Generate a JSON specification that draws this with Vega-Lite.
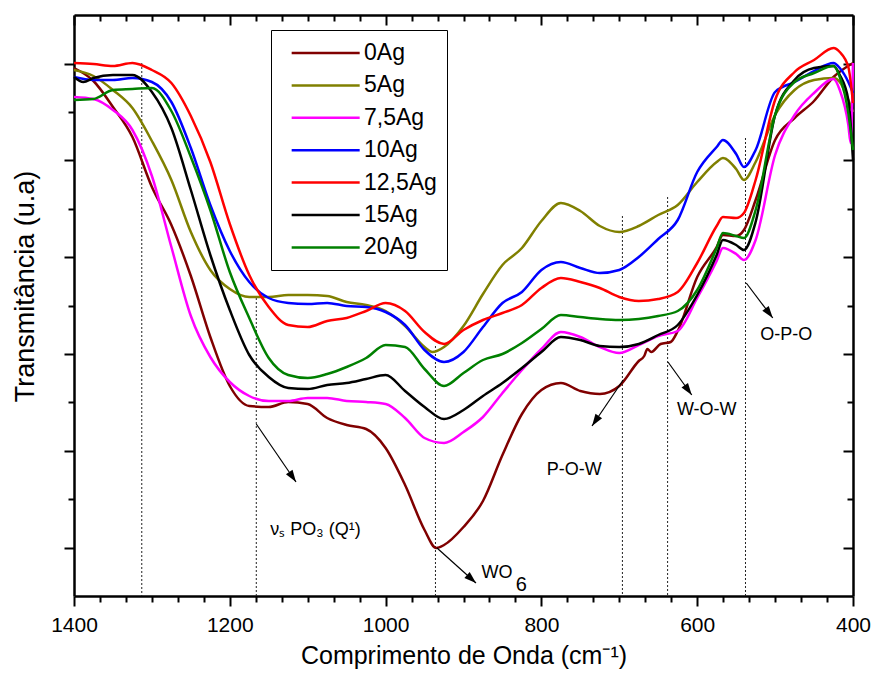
{
  "$schema": "https://vega.github.io/schema/vega-lite/v6.json",
  "width": 779,
  "height": 581,
  "autosize": "none",
  "padding": {"left": 74, "top": 15, "right": 22, "bottom": 81},
  "background": "white",
  "config": {"view": {"stroke": null}, "font": "Liberation Sans"},
  "datasets": {
    "vlines": [
      {"x": 1313, "y1": 533, "y2": 0},
      {"x": 1166, "y1": 298, "y2": 0},
      {"x": 936, "y1": 250, "y2": 0},
      {"x": 696, "y1": 380, "y2": 0},
      {"x": 638, "y1": 399, "y2": 0},
      {"x": 538, "y1": 458, "y2": 0}
    ],
    "arrows": [
      {"x1": 1166, "y1": 172, "x2": 1115, "y2": 114},
      {"x1": 934, "y1": 48, "x2": 884, "y2": 13},
      {"x1": 695, "y1": 216, "x2": 735, "y2": 170},
      {"x1": 637.5, "y1": 234, "x2": 607, "y2": 201},
      {"x1": 537, "y1": 313, "x2": 503, "y2": 278}
    ],
    "labels": [
      {"t": "νₛ PO₃ (Q¹)", "x": 1148, "y": 66},
      {"t": "P-O-W", "x": 793, "y": 126},
      {"t": "W-O-W", "x": 626, "y": 186},
      {"t": "O-P-O", "x": 519, "y": 261},
      {"t": "WO", "x": 877, "y": 23}
    ],
    "labels2": [
      {"t": "6", "x": 833, "y": 11}
    ],
    "spectra": [
      {"s":"0Ag","x":1400,"y":528},{"s":"0Ag","x":1375,"y":515},{"s":"0Ag","x":1350,"y":489},{"s":"0Ag","x":1325,"y":459},{"s":"0Ag","x":1300,"y":409},{"s":"0Ag","x":1275,"y":371},{"s":"0Ag","x":1250,"y":320},{"s":"0Ag","x":1225,"y":259},{"s":"0Ag","x":1200,"y":210},{"s":"0Ag","x":1175,"y":190},{"s":"0Ag","x":1150,"y":189},{"s":"0Ag","x":1125,"y":194},{"s":"0Ag","x":1100,"y":192},{"s":"0Ag","x":1075,"y":178},{"s":"0Ag","x":1050,"y":171},{"s":"0Ag","x":1025,"y":167},{"s":"0Ag","x":1000,"y":148},{"s":"0Ag","x":975,"y":111},{"s":"0Ag","x":950,"y":66},{"s":"0Ag","x":935,"y":48},{"s":"0Ag","x":925,"y":51},{"s":"0Ag","x":900,"y":69},{"s":"0Ag","x":875,"y":95},{"s":"0Ag","x":850,"y":141},{"s":"0Ag","x":825,"y":182},{"s":"0Ag","x":800,"y":206},{"s":"0Ag","x":775,"y":213},{"s":"0Ag","x":750,"y":205},{"s":"0Ag","x":725,"y":202},{"s":"0Ag","x":700,"y":210},{"s":"0Ag","x":675,"y":235},{"s":"0Ag","x":668,"y":240},{"s":"0Ag","x":664,"y":247},{"s":"0Ag","x":659,"y":244},{"s":"0Ag","x":647,"y":252},{"s":"0Ag","x":634,"y":254},{"s":"0Ag","x":625,"y":265},{"s":"0Ag","x":600,"y":319},{"s":"0Ag","x":575,"y":349},{"s":"0Ag","x":567,"y":361},{"s":"0Ag","x":550,"y":360},{"s":"0Ag","x":540,"y":366},{"s":"0Ag","x":525,"y":396},{"s":"0Ag","x":500,"y":456},{"s":"0Ag","x":475,"y":478},{"s":"0Ag","x":450,"y":495},{"s":"0Ag","x":425,"y":519},{"s":"0Ag","x":400,"y":533},
      {"s":"5Ag","x":1400,"y":526},{"s":"5Ag","x":1375,"y":520},{"s":"5Ag","x":1350,"y":506},{"s":"5Ag","x":1325,"y":488},{"s":"5Ag","x":1300,"y":455},{"s":"5Ag","x":1275,"y":416},{"s":"5Ag","x":1250,"y":364},{"s":"5Ag","x":1225,"y":326},{"s":"5Ag","x":1200,"y":307},{"s":"5Ag","x":1175,"y":299},{"s":"5Ag","x":1150,"y":299},{"s":"5Ag","x":1125,"y":301},{"s":"5Ag","x":1100,"y":301},{"s":"5Ag","x":1075,"y":300},{"s":"5Ag","x":1050,"y":294},{"s":"5Ag","x":1025,"y":291},{"s":"5Ag","x":1000,"y":285},{"s":"5Ag","x":975,"y":270},{"s":"5Ag","x":950,"y":249},{"s":"5Ag","x":940,"y":244},{"s":"5Ag","x":925,"y":249},{"s":"5Ag","x":900,"y":270},{"s":"5Ag","x":875,"y":302},{"s":"5Ag","x":850,"y":331},{"s":"5Ag","x":825,"y":348},{"s":"5Ag","x":800,"y":375},{"s":"5Ag","x":775,"y":393},{"s":"5Ag","x":750,"y":385},{"s":"5Ag","x":725,"y":370},{"s":"5Ag","x":700,"y":364},{"s":"5Ag","x":675,"y":370},{"s":"5Ag","x":650,"y":381},{"s":"5Ag","x":625,"y":391},{"s":"5Ag","x":600,"y":414},{"s":"5Ag","x":575,"y":434},{"s":"5Ag","x":567,"y":438},{"s":"5Ag","x":550,"y":427},{"s":"5Ag","x":540,"y":416},{"s":"5Ag","x":525,"y":434},{"s":"5Ag","x":500,"y":481},{"s":"5Ag","x":475,"y":506},{"s":"5Ag","x":450,"y":516},{"s":"5Ag","x":425,"y":518},{"s":"5Ag","x":417,"y":514},{"s":"5Ag","x":406,"y":496},{"s":"5Ag","x":400,"y":484},
      {"s":"7,5Ag","x":1400,"y":499},{"s":"7,5Ag","x":1375,"y":497},{"s":"7,5Ag","x":1350,"y":486},{"s":"7,5Ag","x":1325,"y":466},{"s":"7,5Ag","x":1300,"y":420},{"s":"7,5Ag","x":1275,"y":349},{"s":"7,5Ag","x":1250,"y":280},{"s":"7,5Ag","x":1225,"y":239},{"s":"7,5Ag","x":1200,"y":214},{"s":"7,5Ag","x":1175,"y":200},{"s":"7,5Ag","x":1150,"y":195},{"s":"7,5Ag","x":1125,"y":195},{"s":"7,5Ag","x":1100,"y":198},{"s":"7,5Ag","x":1075,"y":198},{"s":"7,5Ag","x":1050,"y":195},{"s":"7,5Ag","x":1025,"y":194},{"s":"7,5Ag","x":1000,"y":192},{"s":"7,5Ag","x":975,"y":178},{"s":"7,5Ag","x":950,"y":158},{"s":"7,5Ag","x":925,"y":153},{"s":"7,5Ag","x":900,"y":164},{"s":"7,5Ag","x":875,"y":179},{"s":"7,5Ag","x":850,"y":203},{"s":"7,5Ag","x":825,"y":226},{"s":"7,5Ag","x":800,"y":247},{"s":"7,5Ag","x":775,"y":264},{"s":"7,5Ag","x":750,"y":259},{"s":"7,5Ag","x":725,"y":249},{"s":"7,5Ag","x":700,"y":243},{"s":"7,5Ag","x":675,"y":251},{"s":"7,5Ag","x":650,"y":260},{"s":"7,5Ag","x":625,"y":265},{"s":"7,5Ag","x":600,"y":298},{"s":"7,5Ag","x":575,"y":335},{"s":"7,5Ag","x":567,"y":348},{"s":"7,5Ag","x":550,"y":342},{"s":"7,5Ag","x":540,"y":336},{"s":"7,5Ag","x":525,"y":356},{"s":"7,5Ag","x":500,"y":441},{"s":"7,5Ag","x":475,"y":481},{"s":"7,5Ag","x":450,"y":503},{"s":"7,5Ag","x":425,"y":517},{"s":"7,5Ag","x":417,"y":506},{"s":"7,5Ag","x":406,"y":471},{"s":"7,5Ag","x":403,"y":453},{"s":"7,5Ag","x":400,"y":533},
      {"s":"10Ag","x":1400,"y":519},{"s":"10Ag","x":1375,"y":516},{"s":"10Ag","x":1350,"y":516},{"s":"10Ag","x":1325,"y":518},{"s":"10Ag","x":1300,"y":514},{"s":"10Ag","x":1275,"y":494},{"s":"10Ag","x":1250,"y":448},{"s":"10Ag","x":1225,"y":391},{"s":"10Ag","x":1200,"y":345},{"s":"10Ag","x":1175,"y":314},{"s":"10Ag","x":1150,"y":298},{"s":"10Ag","x":1125,"y":293},{"s":"10Ag","x":1100,"y":292},{"s":"10Ag","x":1075,"y":293},{"s":"10Ag","x":1050,"y":290},{"s":"10Ag","x":1025,"y":289},{"s":"10Ag","x":1000,"y":284},{"s":"10Ag","x":975,"y":271},{"s":"10Ag","x":950,"y":246},{"s":"10Ag","x":925,"y":234},{"s":"10Ag","x":900,"y":244},{"s":"10Ag","x":875,"y":269},{"s":"10Ag","x":850,"y":293},{"s":"10Ag","x":825,"y":304},{"s":"10Ag","x":800,"y":326},{"s":"10Ag","x":775,"y":334},{"s":"10Ag","x":750,"y":328},{"s":"10Ag","x":725,"y":323},{"s":"10Ag","x":700,"y":326},{"s":"10Ag","x":675,"y":339},{"s":"10Ag","x":650,"y":357},{"s":"10Ag","x":625,"y":376},{"s":"10Ag","x":600,"y":424},{"s":"10Ag","x":575,"y":449},{"s":"10Ag","x":567,"y":456},{"s":"10Ag","x":550,"y":442},{"s":"10Ag","x":540,"y":429},{"s":"10Ag","x":525,"y":446},{"s":"10Ag","x":500,"y":504},{"s":"10Ag","x":475,"y":514},{"s":"10Ag","x":450,"y":525},{"s":"10Ag","x":425,"y":533},{"s":"10Ag","x":417,"y":528},{"s":"10Ag","x":406,"y":514},{"s":"10Ag","x":400,"y":503},
      {"s":"12,5Ag","x":1400,"y":533},{"s":"12,5Ag","x":1375,"y":532},{"s":"12,5Ag","x":1350,"y":530},{"s":"12,5Ag","x":1325,"y":533},{"s":"12,5Ag","x":1300,"y":526},{"s":"12,5Ag","x":1275,"y":513},{"s":"12,5Ag","x":1250,"y":480},{"s":"12,5Ag","x":1225,"y":434},{"s":"12,5Ag","x":1200,"y":372},{"s":"12,5Ag","x":1175,"y":321},{"s":"12,5Ag","x":1150,"y":289},{"s":"12,5Ag","x":1125,"y":271},{"s":"12,5Ag","x":1100,"y":269},{"s":"12,5Ag","x":1075,"y":275},{"s":"12,5Ag","x":1050,"y":278},{"s":"12,5Ag","x":1025,"y":285},{"s":"12,5Ag","x":1000,"y":293},{"s":"12,5Ag","x":975,"y":285},{"s":"12,5Ag","x":950,"y":264},{"s":"12,5Ag","x":925,"y":252},{"s":"12,5Ag","x":900,"y":266},{"s":"12,5Ag","x":875,"y":276},{"s":"12,5Ag","x":850,"y":283},{"s":"12,5Ag","x":825,"y":291},{"s":"12,5Ag","x":800,"y":308},{"s":"12,5Ag","x":775,"y":318},{"s":"12,5Ag","x":750,"y":314},{"s":"12,5Ag","x":725,"y":308},{"s":"12,5Ag","x":700,"y":299},{"s":"12,5Ag","x":675,"y":295},{"s":"12,5Ag","x":650,"y":297},{"s":"12,5Ag","x":625,"y":304},{"s":"12,5Ag","x":600,"y":333},{"s":"12,5Ag","x":575,"y":370},{"s":"12,5Ag","x":567,"y":379},{"s":"12,5Ag","x":550,"y":378},{"s":"12,5Ag","x":540,"y":383},{"s":"12,5Ag","x":525,"y":416},{"s":"12,5Ag","x":500,"y":496},{"s":"12,5Ag","x":475,"y":524},{"s":"12,5Ag","x":450,"y":536},{"s":"12,5Ag","x":425,"y":548},{"s":"12,5Ag","x":417,"y":544},{"s":"12,5Ag","x":406,"y":529},{"s":"12,5Ag","x":400,"y":493},
      {"s":"15Ag","x":1400,"y":519},{"s":"15Ag","x":1388,"y":514},{"s":"15Ag","x":1375,"y":518},{"s":"15Ag","x":1350,"y":521},{"s":"15Ag","x":1325,"y":521},{"s":"15Ag","x":1300,"y":504},{"s":"15Ag","x":1275,"y":468},{"s":"15Ag","x":1250,"y":406},{"s":"15Ag","x":1225,"y":341},{"s":"15Ag","x":1200,"y":286},{"s":"15Ag","x":1175,"y":241},{"s":"15Ag","x":1150,"y":219},{"s":"15Ag","x":1125,"y":208},{"s":"15Ag","x":1100,"y":207},{"s":"15Ag","x":1075,"y":211},{"s":"15Ag","x":1050,"y":213},{"s":"15Ag","x":1025,"y":217},{"s":"15Ag","x":1000,"y":221},{"s":"15Ag","x":975,"y":205},{"s":"15Ag","x":950,"y":189},{"s":"15Ag","x":925,"y":177},{"s":"15Ag","x":900,"y":186},{"s":"15Ag","x":875,"y":200},{"s":"15Ag","x":850,"y":213},{"s":"15Ag","x":825,"y":228},{"s":"15Ag","x":800,"y":244},{"s":"15Ag","x":775,"y":259},{"s":"15Ag","x":750,"y":256},{"s":"15Ag","x":725,"y":250},{"s":"15Ag","x":700,"y":249},{"s":"15Ag","x":675,"y":252},{"s":"15Ag","x":650,"y":261},{"s":"15Ag","x":625,"y":271},{"s":"15Ag","x":600,"y":301},{"s":"15Ag","x":575,"y":341},{"s":"15Ag","x":567,"y":356},{"s":"15Ag","x":550,"y":351},{"s":"15Ag","x":540,"y":346},{"s":"15Ag","x":525,"y":374},{"s":"15Ag","x":500,"y":481},{"s":"15Ag","x":475,"y":516},{"s":"15Ag","x":450,"y":528},{"s":"15Ag","x":425,"y":530},{"s":"15Ag","x":417,"y":521},{"s":"15Ag","x":406,"y":496},{"s":"15Ag","x":400,"y":436},
      {"s":"20Ag","x":1400,"y":496},{"s":"20Ag","x":1375,"y":497},{"s":"20Ag","x":1350,"y":506},{"s":"20Ag","x":1325,"y":507},{"s":"20Ag","x":1300,"y":508},{"s":"20Ag","x":1275,"y":485},{"s":"20Ag","x":1250,"y":439},{"s":"20Ag","x":1225,"y":386},{"s":"20Ag","x":1200,"y":324},{"s":"20Ag","x":1175,"y":278},{"s":"20Ag","x":1150,"y":238},{"s":"20Ag","x":1125,"y":221},{"s":"20Ag","x":1100,"y":218},{"s":"20Ag","x":1075,"y":222},{"s":"20Ag","x":1050,"y":229},{"s":"20Ag","x":1025,"y":238},{"s":"20Ag","x":1000,"y":251},{"s":"20Ag","x":975,"y":249},{"s":"20Ag","x":950,"y":227},{"s":"20Ag","x":925,"y":210},{"s":"20Ag","x":900,"y":223},{"s":"20Ag","x":875,"y":236},{"s":"20Ag","x":850,"y":242},{"s":"20Ag","x":825,"y":253},{"s":"20Ag","x":800,"y":267},{"s":"20Ag","x":775,"y":281},{"s":"20Ag","x":750,"y":279},{"s":"20Ag","x":725,"y":277},{"s":"20Ag","x":700,"y":276},{"s":"20Ag","x":675,"y":277},{"s":"20Ag","x":650,"y":280},{"s":"20Ag","x":625,"y":285},{"s":"20Ag","x":600,"y":306},{"s":"20Ag","x":575,"y":348},{"s":"20Ag","x":567,"y":363},{"s":"20Ag","x":550,"y":360},{"s":"20Ag","x":540,"y":358},{"s":"20Ag","x":525,"y":386},{"s":"20Ag","x":500,"y":481},{"s":"20Ag","x":475,"y":514},{"s":"20Ag","x":450,"y":523},{"s":"20Ag","x":425,"y":530},{"s":"20Ag","x":417,"y":519},{"s":"20Ag","x":406,"y":483},{"s":"20Ag","x":400,"y":446}
    ]
  },
  "layer": [
    {
      "data": {"name": "vlines"},
      "mark": {"type": "rule", "strokeDash": [2, 2], "strokeWidth": 1, "color": "#222"},
      "encoding": {
        "x": {"field": "x", "type": "quantitative",
          "scale": {"domain": [400, 1400], "reverse": true, "nice": false, "zero": false},
          "axis": {"orient": "bottom",
            "values": [1400,1366.667,1333.333,1300,1266.667,1233.333,1200,1166.667,1133.333,1100,1066.667,1033.333,1000,966.667,933.333,900,866.667,833.333,800,766.667,733.333,700,666.667,633.333,600,566.667,533.333,500,466.667,433.333,400],
            "format": "d",
            "labelExpr": "datum.value % 200 === 0 ? datum.label : ''",
            "tickSize": {"condition": {"test": "datum.value % 200 === 0", "value": 10}, "value": 6},
            "tickWidth": 2, "tickColor": "black", "domainColor": "black", "domainWidth": 2.5,
            "labelFontSize": 21, "labelColor": "black", "labelPadding": 8, "labelFont": "Liberation Sans",
            "labelFlush": false, "labelOverlap": false, "grid": false,
            "title": "Comprimento de Onda (cm⁻¹)", "titleFontSize": 25, "titleFontWeight": "normal",
            "titleColor": "black", "titleFont": "Liberation Sans", "titlePadding": 8}},
        "y": {"field": "y1", "type": "quantitative",
          "scale": {"domain": [0, 581], "nice": false, "zero": false},
          "axis": {"orient": "left",
            "values": [48.4, 96.8, 145.2, 193.6, 242, 290.4, 338.8, 387.2, 435.6, 484, 532.4],
            "labels": false,
            "tickSize": {"condition": {"test": "round(datum.value / 48.4) % 2 === 1", "value": 10}, "value": 6},
            "tickWidth": 2, "tickColor": "black", "domainColor": "black", "domainWidth": 2.5, "grid": false,
            "title": "Transmitância (u.a)", "titleFontSize": 27, "titleFontWeight": "normal",
            "titleColor": "black", "titleFont": "Liberation Sans",
            "titleX": -41, "titleY": 271, "titleAngle": 270, "titleBaseline": "alphabetic", "titleAlign": "center"}},
        "y2": {"field": "y2"}
      }
    },
    {
      "data": {"name": "spectra"},
      "mark": {"type": "line", "interpolate": "monotone", "strokeWidth": 2.5},
      "encoding": {
        "x": {"field": "x", "type": "quantitative",
          "scale": {"domain": [400, 1400], "reverse": true, "nice": false, "zero": false},
          "axis": {"orient": "top",
            "values": [1400,1366.667,1333.333,1300,1266.667,1233.333,1200,1166.667,1133.333,1100,1066.667,1033.333,1000,966.667,933.333,900,866.667,833.333,800,766.667,733.333,700,666.667,633.333,600,566.667,533.333,500,466.667,433.333,400],
            "labels": false,
            "tickSize": {"condition": {"test": "datum.value % 200 === 0", "value": -10}, "value": -6},
            "tickWidth": 2, "tickColor": "black", "domainColor": "black", "domainWidth": 2.5, "grid": false, "title": null}},
        "y": {"field": "y", "type": "quantitative",
          "scale": {"domain": [0, 581], "nice": false, "zero": false},
          "axis": {"orient": "right",
            "values": [48.4, 96.8, 145.2, 193.6, 242, 290.4, 338.8, 387.2, 435.6, 484, 532.4],
            "labels": false,
            "tickSize": {"condition": {"test": "round(datum.value / 48.4) % 2 === 1", "value": -10}, "value": -6},
            "tickWidth": 2, "tickColor": "black", "domainColor": "black", "domainWidth": 2.5, "grid": false, "title": null}},
        "color": {"field": "s", "type": "nominal",
          "scale": {"domain": ["0Ag", "5Ag", "7,5Ag", "10Ag", "12,5Ag", "15Ag", "20Ag"],
                    "range": ["#800000", "#808000", "#ff00ff", "#0000ff", "#ff0000", "#000000", "#008000"]},
          "legend": {"orient": "none", "legendX": 197, "legendY": 15, "title": null,
            "symbolType": "M-1,0H5", "symbolSize": 514, "symbolStrokeWidth": 2.5, "symbolOffset": 9,
            "labelFontSize": 23, "labelFont": "Liberation Sans", "labelColor": "black",
            "labelOffset": 48, "rowPadding": 7.4, "padding": 10,
            "strokeColor": "black", "fillColor": "white"}}
      }
    },
    {
      "data": {"name": "arrows"},
      "mark": {"type": "rule", "strokeWidth": 1.2, "color": "black"},
      "encoding": {
        "x": {"field": "x1", "type": "quantitative", "scale": {"domain": [400, 1400], "reverse": true, "nice": false, "zero": false}, "axis": null},
        "y": {"field": "y1", "type": "quantitative", "scale": {"domain": [0, 581], "nice": false, "zero": false}, "axis": null},
        "x2": {"field": "x2"},
        "y2": {"field": "y2"}
      }
    },
    {
      "data": {"name": "arrows"},
      "mark": {"type": "point", "shape": "M0,0L-0.4,1.2L0.4,1.2Z", "filled": true, "color": "black", "size": 400, "opacity": 1},
      "encoding": {
        "x": {"field": "x2", "type": "quantitative", "scale": {"domain": [400, 1400], "reverse": true, "nice": false, "zero": false}, "axis": null},
        "y": {"field": "y2", "type": "quantitative", "scale": {"domain": [0, 581], "nice": false, "zero": false}, "axis": null},
        "angle": {"field": "x2", "type": "quantitative",
          "scale": {"type": "linear", "domain": [503, 607, 735, 884, 1115], "range": [142.9, 144.2, 214.1, 131.9, 145.6]},
          "legend": null}
      }
    },
    {
      "data": {"name": "labels"},
      "mark": {"type": "text", "align": "left", "baseline": "middle", "fontSize": 18, "font": "Liberation Sans", "color": "black"},
      "encoding": {
        "x": {"field": "x", "type": "quantitative", "scale": {"domain": [400, 1400], "reverse": true, "nice": false, "zero": false}, "axis": null},
        "y": {"field": "y", "type": "quantitative", "scale": {"domain": [0, 581], "nice": false, "zero": false}, "axis": null},
        "text": {"field": "t"}
      }
    },
    {
      "data": {"name": "labels2"},
      "mark": {"type": "text", "align": "left", "baseline": "middle", "fontSize": 20, "font": "Liberation Sans", "color": "black"},
      "encoding": {
        "x": {"field": "x", "type": "quantitative", "scale": {"domain": [400, 1400], "reverse": true, "nice": false, "zero": false}, "axis": null},
        "y": {"field": "y", "type": "quantitative", "scale": {"domain": [0, 581], "nice": false, "zero": false}, "axis": null},
        "text": {"field": "t"}
      }
    }
  ]
}
